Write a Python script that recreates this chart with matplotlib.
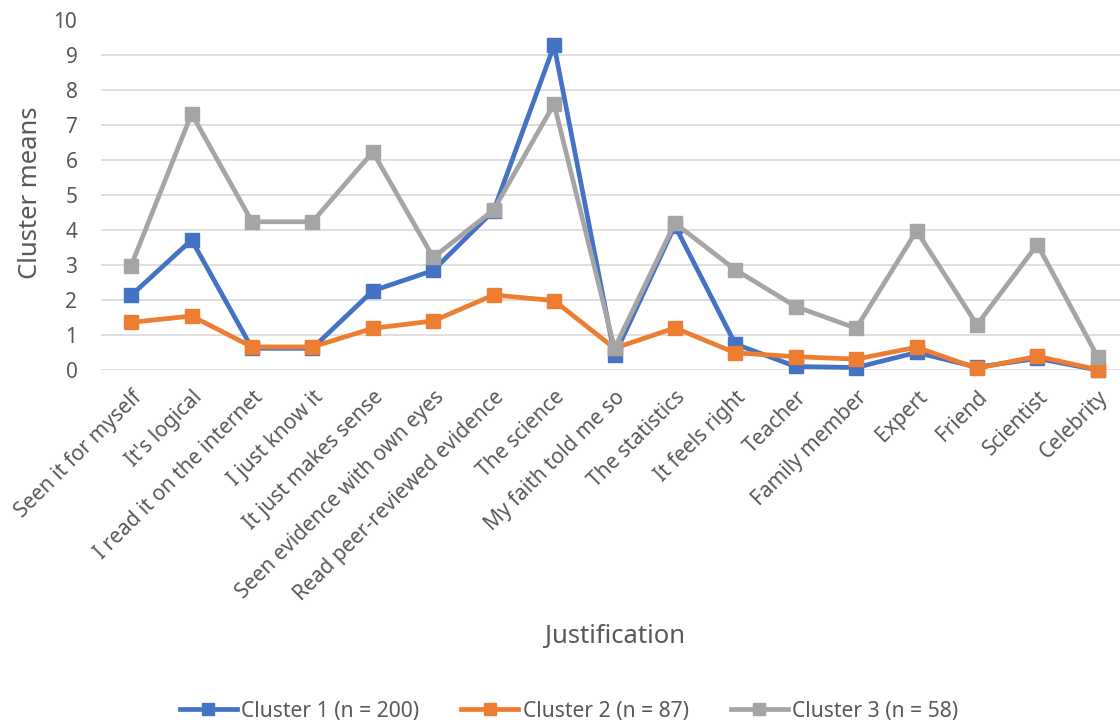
import matplotlib
matplotlib.use("Agg")
import matplotlib.pyplot as plt

categories = [
    "Seen it for myself", "It's logical", "I read it on the internet",
    "I just know it", "It just makes sense", "Seen evidence with own eyes",
    "Read peer-reviewed evidence", "The science", "My faith told me so",
    "The statistics", "It feels right", "Teacher", "Family member",
    "Expert", "Friend", "Scientist", "Celebrity",
]
cluster1 = [2.13, 3.71, 0.62, 0.62, 2.26, 2.84, 4.55, 9.26, 0.42, 4.12,
            0.74, 0.10, 0.07, 0.50, 0.08, 0.33, 0.00]
cluster2 = [1.36, 1.54, 0.66, 0.66, 1.19, 1.40, 2.14, 1.98, 0.62, 1.20,
            0.49, 0.38, 0.31, 0.65, 0.05, 0.39, 0.01]
cluster3 = [2.98, 7.31, 4.23, 4.23, 6.22, 3.21, 4.57, 7.59, 0.62, 4.19,
            2.86, 1.81, 1.19, 3.97, 1.29, 3.58, 0.37]
series_labels = ["Cluster 1 (n = 200)", "Cluster 2 (n = 87)", "Cluster 3 (n = 58)"]
colors = ["#4472C4", "#ED7D31", "#A5A5A5"]

plt.rcParams["font.family"] = ["Noto Sans", "DejaVu Sans"]
text_color = "#595959"

fig = plt.figure(figsize=(11.2, 7.22), dpi=100)
ax = fig.add_axes([101 / 1120, 352 / 722, 1027 / 1120, 350.5 / 722])

x = list(range(len(categories)))
for vals, lab, col in zip([cluster1, cluster2, cluster3], series_labels, colors):
    ax.plot(x, vals, color=col, lw=3.4, marker="s", markersize=10,
            label=lab, solid_joinstyle="round", clip_on=False)

ax.set_xlim(-0.5, len(categories) - 0.5)
ax.set_ylim(0, 10)
ax.set_yticks(range(0, 11))
ax.set_xticks(x)
ax.set_xticklabels(categories, rotation=45, ha="right", rotation_mode="anchor")
ax.tick_params(axis="both", length=0, labelsize=15, colors=text_color)
ax.tick_params(axis="x", pad=12)
ax.tick_params(axis="y", pad=17)
ax.grid(axis="y", color="#D9D9D9", lw=1.2)
ax.set_axisbelow(True)
for s in ax.spines.values():
    s.set_visible(False)

fig.text(31 / 1120, 1 - 193 / 722, "Cluster means", fontsize=18.5,
         color=text_color, ha="center", va="center", rotation=90)
fig.text(615 / 1120, 1 - 637 / 722, "Justification", fontsize=18.5,
         color=text_color, ha="center", va="center")

leg = fig.legend(loc="center", bbox_to_anchor=(569 / 1120, 1 - 711 / 722),
                 ncol=3, frameon=False, fontsize=15.2, handlelength=2.7,
                 columnspacing=2.0, handletextpad=0.2, markerscale=0.9)
for t in leg.get_texts():
    t.set_color(text_color)

fig.savefig("out.png", dpi=100)
